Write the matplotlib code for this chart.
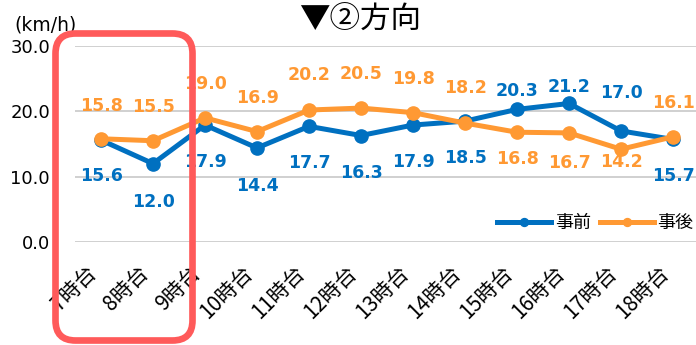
import matplotlib.pyplot as plt
from matplotlib.patches import FancyBboxPatch

# 時間帯別の平均速度 (km/h)
hours = ["7時台", "8時台", "9時台", "10時台", "11時台", "12時台",
         "13時台", "14時台", "15時台", "16時台", "17時台", "18時台"]
before = [15.6, 12.0, 17.9, 14.4, 17.7, 16.3, 17.9, 18.5, 20.3, 21.2, 17.0, 15.7]
after = [15.8, 15.5, 19.0, 16.9, 20.2, 20.5, 19.8, 18.2, 16.8, 16.7, 14.2, 16.1]

# ラベルのずらし量 (pixel, 上が正)
off_before = [-36, -38, -37, -38, -37, -37, -37, -37, 18, 16, 38, -37]
off_after = [33, 34, 34, 34, 35, 34, 34, 35, -27, -30, -13, 34]

c_before = "#0070c0"
c_after = "#ff9933"
jp = ["Noto Sans CJK JP", "DejaVu Sans"]

fig = plt.figure(figsize=(6.96, 3.45), dpi=100)
ax = fig.add_axes([75 / 696, 103 / 345, 624 / 696, 196 / 345])

x = list(range(len(hours)))
ax.plot(x, before, color=c_before, lw=3.6, marker="o", ms=9.5, label="事前", zorder=3)
ax.plot(x, after, color=c_after, lw=3.6, marker="o", ms=9.5, label="事後", zorder=4)

for i in x:
    ax.annotate(f"{before[i]:.1f}", (i, before[i]), xytext=(0, off_before[i]),
                textcoords="offset pixels", ha="center", va="center",
                color=c_before, fontsize=12.5, fontweight="bold", annotation_clip=False)
    ax.annotate(f"{after[i]:.1f}", (i, after[i]), xytext=(0, off_after[i]),
                textcoords="offset pixels", ha="center", va="center",
                color=c_after, fontsize=12.5, fontweight="bold", annotation_clip=False)

ax.set_xlim(-0.5, len(hours) - 0.5)
ax.set_ylim(0, 30)
ax.set_yticks([0, 10, 20, 30])
ax.set_yticklabels(["0.0", "10.0", "20.0", "30.0"], fontsize=13)
ax.set_xticks(x)
ax.set_xticklabels(hours, rotation=45, ha="right", fontsize=15, family=jp)
ax.tick_params(axis="y", length=0, pad=18)
ax.tick_params(axis="x", length=0, pad=14)
ax.grid(axis="y", color="#c8c8c8", lw=1.2)
ax.set_axisbelow(True)
for s in ax.spines.values():
    s.set_visible(False)

fig.text(14 / 696, 1 - 25 / 345, "(km/h)", fontsize=13.5, va="center", ha="left")
fig.text(360 / 696, 1 - 20 / 345, "▼②方向", fontsize=22, va="center", ha="center",
         family=jp)

fig.legend(loc="center left", bbox_to_anchor=(488 / 696, 1 - 223 / 345), ncol=2,
           frameon=False, prop={"family": jp, "size": 13}, handlelength=3.0,
           handletextpad=0.2, columnspacing=0.5, borderpad=0, markerscale=0.6)

# 7時台・8時台の囲み (インチ単位で配置)
box = FancyBboxPatch((0.555, 0.045), 1.37, 3.07,
                     boxstyle="round,pad=0,rounding_size=0.2",
                     transform=fig.dpi_scale_trans, fill=False, ec="#ff5a5a", lw=4.8,
                     zorder=10)
fig.patches.append(box)

fig.savefig("out.png", dpi=100)
